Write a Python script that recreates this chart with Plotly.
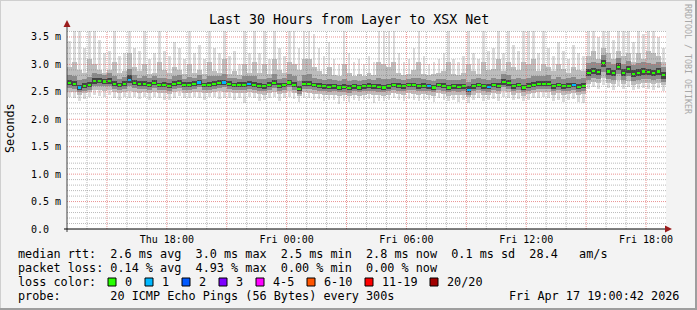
import plotly.graph_objects as go
import pandas as pd

# ---------------- data (15-minute bins, Thu 13:00 .. Fri 19:00, values in ms) ----------------
median = [2.66,2.65,2.58,2.61,2.63,2.70,2.70,2.69,2.70,2.64,2.62,2.64,2.72,2.66,2.64,2.65,2.63,2.66,2.62,2.63,2.61,2.64,2.66,2.63,
          2.63,2.64,2.67,2.62,2.63,2.65,2.66,2.67,2.64,2.62,2.63,2.63,2.65,2.63,2.61,2.60,2.63,2.66,2.61,2.62,2.67,2.63,2.55,2.65,
          2.64,2.62,2.61,2.60,2.59,2.60,2.58,2.59,2.57,2.60,2.58,2.60,2.61,2.60,2.59,2.58,2.60,2.62,2.61,2.60,2.62,2.62,2.60,2.61,
          2.60,2.58,2.62,2.61,2.58,2.60,2.59,2.60,2.54,2.60,2.62,2.60,2.59,2.62,2.61,2.68,2.66,2.60,2.62,2.58,2.61,2.63,2.64,2.65,
          2.65,2.60,2.62,2.60,2.61,2.62,2.59,2.61,2.85,2.88,2.86,3.02,2.87,2.84,2.96,2.85,2.91,2.83,2.85,2.87,2.86,2.84,2.87,2.80]

p60 = [2.71,2.70,2.63,2.66,2.68,2.75,2.75,2.74,2.75,2.69,2.67,2.69,2.80,2.71,2.69,2.70,2.68,2.71,2.67,2.68,2.66,2.69,2.71,2.68,
       2.68,2.69,2.72,2.67,2.68,2.70,2.71,2.72,2.69,2.67,2.68,2.68,2.70,2.68,2.66,2.65,2.68,2.71,2.66,2.67,2.72,2.68,2.61,2.70,
       2.69,2.67,2.66,2.65,2.64,2.65,2.63,2.64,2.62,2.65,2.63,2.65,2.66,2.65,2.64,2.63,2.65,2.67,2.66,2.65,2.67,2.67,2.65,2.66,
       2.65,2.63,2.67,2.66,2.63,2.65,2.64,2.65,2.60,2.65,2.67,2.65,2.64,2.67,2.66,2.73,2.71,2.65,2.67,2.63,2.66,2.68,2.69,2.70,
       2.70,2.65,2.67,2.65,2.66,2.67,2.64,2.66,2.91,2.94,2.92,3.08,2.93,2.90,3.02,2.91,2.97,2.89,2.91,2.93,2.92,2.90,2.93,2.86]

p40 = [2.62,2.61,2.54,2.57,2.59,2.65,2.66,2.65,2.65,2.60,2.58,2.60,2.67,2.62,2.60,2.61,2.59,2.62,2.58,2.59,2.57,2.60,2.62,2.59,
       2.59,2.60,2.63,2.58,2.59,2.61,2.62,2.63,2.60,2.58,2.59,2.59,2.61,2.59,2.57,2.56,2.59,2.62,2.57,2.58,2.63,2.59,2.51,2.61,
       2.60,2.58,2.57,2.56,2.55,2.56,2.54,2.55,2.53,2.56,2.54,2.56,2.57,2.56,2.55,2.54,2.56,2.58,2.57,2.56,2.58,2.58,2.56,2.57,
       2.56,2.54,2.58,2.57,2.54,2.56,2.55,2.56,2.50,2.56,2.58,2.56,2.55,2.58,2.57,2.63,2.61,2.56,2.58,2.54,2.57,2.59,2.60,2.61,
       2.61,2.56,2.58,2.56,2.57,2.58,2.55,2.57,2.79,2.82,2.80,2.95,2.81,2.78,2.89,2.79,2.85,2.77,2.79,2.81,2.80,2.78,2.81,2.74]

p75 = [2.80,2.78,2.72,2.74,2.77,2.84,2.82,2.81,2.84,2.78,2.74,2.77,2.92,2.80,2.76,2.79,2.75,2.79,2.76,2.75,2.74,2.78,2.80,2.74,
       2.77,2.76,2.81,2.74,2.78,2.78,2.79,2.82,2.76,2.76,2.74,2.78,2.78,2.79,2.74,2.73,2.75,2.82,2.74,2.75,2.82,2.78,2.70,2.81,
       2.82,2.76,2.74,2.72,2.74,2.71,2.70,2.74,2.69,2.72,2.70,2.71,2.74,2.72,2.75,2.74,2.74,2.76,2.73,2.72,2.74,2.75,2.76,2.73,
       2.72,2.70,2.74,2.74,2.72,2.72,2.71,2.73,2.68,2.73,2.75,2.74,2.72,2.76,2.74,2.82,2.80,2.74,2.76,2.74,2.76,2.78,2.78,2.79,
       2.80,2.74,2.77,2.74,2.75,2.77,2.74,2.75,3.02,3.04,3.02,3.17,3.04,3.00,3.12,3.01,3.07,2.99,3.02,3.04,3.02,3.00,3.04,2.96]

p25 = [2.57,2.56,2.49,2.52,2.54,2.60,2.61,2.60,2.60,2.55,2.53,2.55,2.61,2.57,2.55,2.56,2.54,2.57,2.53,2.54,2.52,2.55,2.57,2.54,
       2.54,2.55,2.58,2.53,2.54,2.56,2.57,2.58,2.55,2.53,2.54,2.54,2.56,2.54,2.52,2.51,2.54,2.57,2.52,2.53,2.58,2.54,2.46,2.56,
       2.55,2.53,2.52,2.51,2.50,2.51,2.49,2.50,2.48,2.51,2.49,2.51,2.52,2.51,2.50,2.49,2.51,2.53,2.52,2.51,2.53,2.53,2.51,2.52,
       2.51,2.49,2.53,2.52,2.49,2.51,2.50,2.51,2.45,2.51,2.53,2.51,2.50,2.53,2.52,2.58,2.56,2.51,2.53,2.49,2.52,2.54,2.55,2.56,
       2.56,2.51,2.53,2.51,2.52,2.53,2.50,2.52,2.72,2.75,2.73,2.86,2.74,2.71,2.82,2.72,2.78,2.70,2.72,2.74,2.73,2.71,2.74,2.68]

p90 = [2.95,3.05,2.90,2.85,3.10,3.00,2.90,2.85,2.90,3.05,2.85,2.88,3.20,2.95,2.88,3.00,2.82,2.85,3.05,2.90,2.85,2.95,2.90,2.82,
       3.00,2.85,2.90,2.82,3.05,2.88,2.85,3.10,2.83,2.88,2.80,3.00,2.85,3.05,2.85,3.00,2.82,3.10,2.90,2.85,3.05,3.00,2.90,3.10,
       3.10,2.95,2.88,2.82,2.95,2.80,2.78,3.00,2.85,2.78,2.82,2.78,2.85,2.80,3.05,3.00,2.95,3.05,2.85,2.80,2.82,2.90,3.05,2.82,
       2.80,2.82,2.85,2.88,3.05,2.82,2.80,2.85,3.00,2.88,2.82,3.05,2.90,2.92,3.10,2.88,3.05,2.95,2.90,3.05,3.00,3.10,2.88,3.00,
       2.95,2.88,3.00,2.92,2.85,2.95,2.90,2.88,3.15,3.25,3.10,3.30,3.20,3.10,3.25,3.15,3.20,3.05,3.20,3.10,3.25,3.20,3.15,3.05]

p10 = [2.50,2.49,2.44,2.47,2.49,2.53,2.54,2.52,2.53,2.49,2.47,2.49,2.52,2.50,2.48,2.50,2.47,2.50,2.47,2.48,2.46,2.49,2.51,2.48,
       2.48,2.49,2.50,2.47,2.48,2.50,2.51,2.50,2.49,2.47,2.48,2.47,2.50,2.48,2.46,2.45,2.48,2.50,2.46,2.47,2.51,2.48,2.42,2.49,
       2.48,2.46,2.46,2.45,2.44,2.45,2.43,2.44,2.42,2.45,2.43,2.45,2.46,2.44,2.44,2.43,2.45,2.47,2.46,2.45,2.47,2.46,2.45,2.46,
       2.45,2.43,2.47,2.46,2.43,2.45,2.44,2.45,2.40,2.45,2.47,2.45,2.44,2.47,2.46,2.51,2.49,2.45,2.47,2.43,2.46,2.48,2.49,2.50,
       2.50,2.45,2.47,2.45,2.46,2.47,2.44,2.46,2.64,2.68,2.66,2.76,2.67,2.64,2.72,2.65,2.70,2.63,2.65,2.67,2.66,2.64,2.67,2.62]

pmin = [2.40,2.38,2.33,2.37,2.40,2.44,2.42,2.41,2.45,2.39,2.36,2.40,2.38,2.41,2.37,2.40,2.35,2.41,2.38,2.36,2.35,2.39,2.42,2.38,
        2.39,2.40,2.38,2.36,2.40,2.41,2.37,2.39,2.38,2.35,2.39,2.30,2.40,2.38,2.34,2.36,2.39,2.41,2.33,2.38,2.40,2.37,2.32,2.39,
        2.38,2.36,2.37,2.33,2.35,2.36,2.28,2.34,2.32,2.36,2.33,2.35,2.37,2.30,2.34,2.33,2.36,2.38,2.35,2.34,2.37,2.36,2.33,2.36,
        2.35,2.32,2.38,2.36,2.33,2.35,2.31,2.36,2.30,2.35,2.38,2.34,2.36,2.37,2.33,2.40,2.38,2.35,2.37,2.33,2.36,2.38,2.39,2.40,
        2.38,2.33,2.36,2.31,2.35,2.37,2.32,2.30,2.55,2.58,2.56,2.62,2.57,2.54,2.60,2.55,2.59,2.53,2.55,2.57,2.56,2.54,2.57,2.52]

pmax = [3.43,3.70,3.70,3.30,3.70,3.70,3.45,3.20,3.25,3.70,3.15,3.20,3.70,3.30,3.25,3.70,3.10,3.20,3.70,3.25,3.15,3.40,3.30,3.10,
        3.70,3.20,3.35,3.10,3.70,3.30,3.20,3.70,3.15,3.25,3.00,3.70,3.20,3.70,3.20,3.70,3.10,3.70,3.30,3.15,3.70,3.70,3.30,3.70,
        3.70,3.55,3.30,3.15,3.40,3.10,3.00,3.70,3.20,3.05,3.10,3.00,3.15,3.05,3.70,3.70,3.60,3.70,3.20,3.05,3.10,3.30,3.70,3.15,
        3.00,3.05,3.10,3.20,3.70,3.10,3.05,3.15,3.70,3.20,3.10,3.70,3.25,3.30,3.70,3.20,3.70,3.35,3.25,3.70,3.60,3.70,3.20,3.70,
        3.30,3.15,3.40,3.25,3.10,3.35,3.20,3.15,3.70,3.70,3.50,3.70,3.70,3.45,3.70,3.60,3.70,3.40,3.70,3.55,3.70,3.70,3.50,3.30]

# lost pings (out of 20) per bin
loss = [0]*120
for i in [2, 12, 26, 31, 36, 72, 80, 84, 101]:
    loss[i] = 1

loss_labels = ["0", "1", "2", "3", "4-5", "6-10", "11-19", "20/20"]
loss_colors = ["#26ff00", "#00b8ff", "#0059ff", "#7e00ff", "#ff00ff", "#ff5500", "#ff0000", "#a10000"]

y_tickvals = [0, 0.5, 1.0, 1.5, 2.0, 2.5, 3.0, 3.5]
y_ticktext = ["0.0\u00a0\u00a0", "0.5 m", "1.0 m", "1.5 m", "2.0 m", "2.5 m", "3.0 m", "3.5 m"]

title_text = "Last 30 Hours from Layer to XSX Net"
legend_lines = [
    "median rtt:  2.6 ms avg  3.0 ms max  2.5 ms min  2.8 ms now  0.1 ms sd  28.4   am/s",
    "packet loss: 0.14 % avg  4.93 % max  0.00 % min  0.00 % now",
    "loss color:",
    "probe:       20 ICMP Echo Pings (56 Bytes) every 300s",
]
stamp_text = "Fri Apr 17 19:00:42 2026"

# ---------------- geometry ----------------
W, H = 697, 310
PL, PR, PT, PB = 67, 666, 31, 229
YMAX = 3.609
start = pd.Timestamp("2026-04-16 13:00:00")
end = pd.Timestamp("2026-04-17 19:00:00")
step = pd.Timedelta(minutes=15)
centers = [start + step * i + step / 2 for i in range(len(median))]
bar_w = step.total_seconds() * 1000


def px(x):
    return (x - PL) / (PR - PL)


def py(y):
    return (PB - y) / (PB - PT)


def nb(s):
    return s.replace(" ", "\u00a0")


fig = go.Figure()

# smoke: outer spikes thinner, inner bands full width
bands = [(pmin, pmax, "#dcdcdc", 0.55), (p10, p90, "#bdbdbd", 1.0),
         (p25, p75, "#8c8c8c", 1.0), (p40, p60, "#444444", 1.0)]
for lo, hi, col, wf in bands:
    fig.add_trace(go.Bar(x=centers, y=[h - l for l, h in zip(lo, hi)], base=lo, width=bar_w * wf,
                         marker=dict(color=col, line=dict(width=0)), hoverinfo="skip"))

seg = 0.04
fig.add_trace(go.Bar(x=centers, y=[seg] * len(median), base=[m - seg / 2 for m in median],
                     width=bar_w * 0.75,
                     marker=dict(color=[loss_colors[l] for l in loss], line=dict(width=0)),
                     hoverinfo="skip"))

shapes = []
# grid drawn above the smoke
minor_col = "rgba(120,120,120,0.5)"
major_col = "rgba(225,110,110,0.75)"
for k in range(1, 37):
    v = k / 10
    major = (k % 5 == 0)
    shapes.append(dict(type="line", xref="paper", yref="y", x0=0, x1=1, y0=v, y1=v,
                       line=dict(color=major_col if major else minor_col, width=1, dash="1px,1px"), layer="above"))
for h in range(1, 30):
    t = start + pd.Timedelta(hours=h)
    major = (h % 3 == 2)
    shapes.append(dict(type="line", xref="x", yref="paper", x0=t, x1=t, y0=0, y1=1,
                       line=dict(color=major_col if major else minor_col, width=1, dash="1px,1px"), layer="above"))

# axes + arrows
arrow_col = "#9b1c1c"
shapes.append(dict(type="line", xref="paper", yref="paper", x0=px(PL), x1=px(PL), y0=py(PB + 3), y1=py(25),
                   line=dict(color="#404040", width=1)))
shapes.append(dict(type="line", xref="paper", yref="paper", x0=px(PL - 3), x1=px(668), y0=py(PB), y1=py(PB),
                   line=dict(color="#000000", width=1)))
shapes.append(dict(type="path", xref="paper", yref="paper",
                   path=f"M {px(PL-3.5)} {py(27)} L {px(PL+3.5)} {py(27)} L {px(PL)} {py(20)} Z",
                   fillcolor=arrow_col, line=dict(width=0)))
shapes.append(dict(type="path", xref="paper", yref="paper",
                   path=f"M {px(665)} {py(PB-3.5)} L {px(665)} {py(PB+3.5)} L {px(672)} {py(PB)} Z",
                   fillcolor=arrow_col, line=dict(width=0)))

# frame
shapes.append(dict(type="line", xref="paper", yref="paper", x0=px(0), x1=px(W), y0=py(0.5), y1=py(0.5),
                   line=dict(color="#cfcfcf", width=1)))
shapes.append(dict(type="line", xref="paper", yref="paper", x0=px(0.5), x1=px(0.5), y0=py(0), y1=py(H),
                   line=dict(color="#cfcfcf", width=1)))
shapes.append(dict(type="line", xref="paper", yref="paper", x0=px(0), x1=px(W), y0=py(H - 1), y1=py(H - 1),
                   line=dict(color="#9e9e9e", width=2)))
shapes.append(dict(type="line", xref="paper", yref="paper", x0=px(W - 1), x1=px(W - 1), y0=py(0), y1=py(H),
                   line=dict(color="#9e9e9e", width=2)))

# loss colour swatches
sw_left = [108, 145, 182, 219, 256, 307, 365, 430]
for xl, col in zip(sw_left, loss_colors):
    shapes.append(dict(type="rect", xref="paper", yref="paper", x0=px(xl), x1=px(xl + 8), y0=py(278), y1=py(286),
                       fillcolor=col, line=dict(color="#000000", width=1)))

mono = "DejaVu Sans Mono"
ann = []
ann.append(dict(text=title_text, xref="paper", yref="paper", x=px(348.5), y=py(19), showarrow=False,
                xanchor="center", yanchor="middle", font=dict(family=mono, size=13.3, color="#000")))
ann.append(dict(text="Seconds", xref="paper", yref="paper", x=px(10), y=py(128), showarrow=False, textangle=-90,
                xanchor="center", yanchor="middle", font=dict(family=mono, size=11.8, color="#000")))
ann.append(dict(text=nb("RRDTOOL / TOBI OETIKER"), xref="paper", yref="paper", x=px(688), y=py(59), showarrow=False,
                textangle=90, xanchor="center", yanchor="middle", font=dict(family=mono, size=8.3, color="#a8a8a8")))
for i, line in enumerate(legend_lines):
    ann.append(dict(text=nb(line), xref="paper", yref="paper", x=px(16), y=py(254 + 14 * i), showarrow=False,
                    xanchor="left", yanchor="middle", font=dict(family=mono, size=11.8, color="#000")))
ann.append(dict(text=nb(stamp_text), xref="paper", yref="paper", x=px(681), y=py(296), showarrow=False,
                xanchor="right", yanchor="middle", font=dict(family=mono, size=11.8, color="#000")))
for xl, lab in zip(sw_left, loss_labels):
    ann.append(dict(text=lab, xref="paper", yref="paper", x=px(xl + 15), y=py(282), showarrow=False,
                    xanchor="left", yanchor="middle", font=dict(family=mono, size=11.8, color="#000")))

x_tickvals = [start + pd.Timedelta(hours=h) for h in range(2, 31, 3)]
x_ticktext = [t.strftime("%a %H:%M") if t.hour % 6 == 0 else "" for t in x_tickvals]

fig.update_layout(
    width=W, height=H,
    margin=dict(l=PL, r=W - PR, t=PT, b=H - PB),
    paper_bgcolor="#f3f3f3", plot_bgcolor="#ffffff",
    showlegend=False, barmode="overlay", bargap=0,
    font=dict(family=mono, size=10, color="#000"),
    shapes=shapes, annotations=ann,
    xaxis=dict(type="date", range=[start, end], tickvals=x_tickvals, ticktext=x_ticktext,
               showgrid=False, zeroline=False, showline=False, ticks="", ticklabelstandoff=3,
               tickfont=dict(family=mono, size=10, color="#000"), fixedrange=True),
    yaxis=dict(range=[0, YMAX], tickvals=y_tickvals, ticktext=y_ticktext,
               showgrid=False, zeroline=False, showline=False, ticks="", ticklabelstandoff=5,
               tickfont=dict(family=mono, size=10, color="#000"), fixedrange=True),
)

fig.write_html("out.html", config={"displayModeBar": False})
